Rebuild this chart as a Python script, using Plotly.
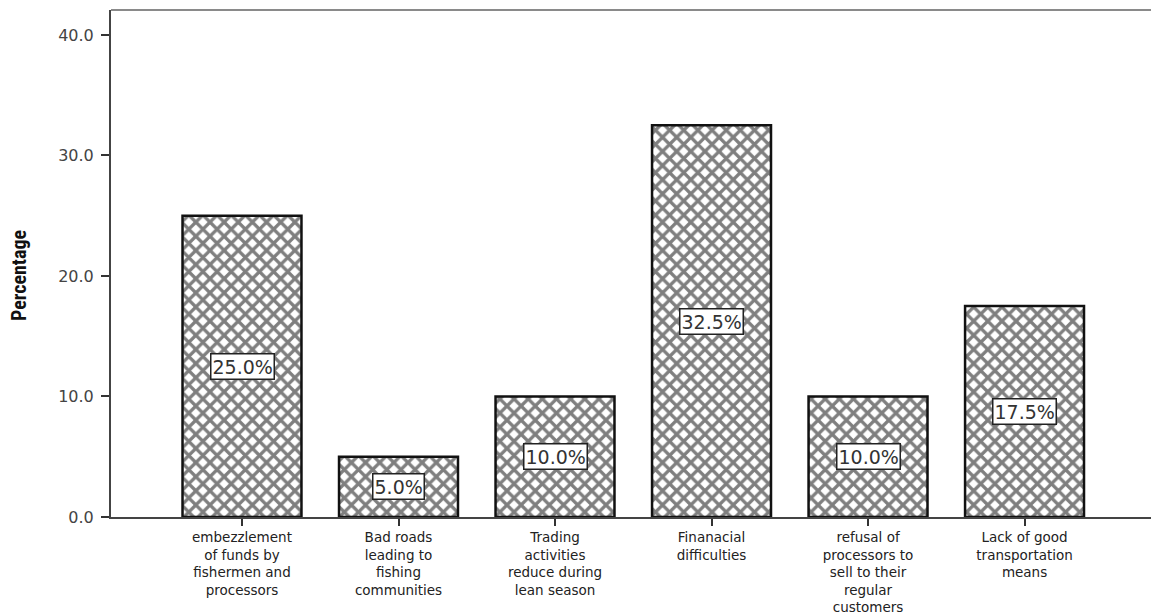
import plotly.graph_objects as go

categories = [
    "embezzlement<br>of funds by<br>fishermen and<br>processors",
    "Bad roads<br>leading to<br>fishing<br>communities",
    "Trading<br>activities<br>reduce during<br>lean season",
    "Finanacial<br>difficulties",
    "refusal of<br>processors to<br>sell to their<br>regular<br>customers",
    "Lack of good<br>transportation<br>means",
]
percentages = [25.0, 5.0, 10.0, 32.5, 10.0, 17.5]
y_ticks = [0, 10, 20, 30, 40]

W, H = 1151, 615
ML, MR, MT, MB = 111, 0, 10, 98

fig = go.Figure()
fig.add_trace(go.Bar(
    x=categories,
    y=percentages,
    marker=dict(
        color="white",
        line=dict(color="#111111", width=2.5),
        pattern=dict(shape="x", fgcolor="#000000", bgcolor="white", size=10, solidity=0.55),
    ),
    hoverinfo="skip",
))

for c, v in zip(categories, percentages):
    fig.add_annotation(
        x=c, y=v / 2, xref="x", yref="y",
        text=f"{v:.1f}%", showarrow=False,
        font=dict(family="DejaVu Sans, Arial, sans-serif", size=19, color="#333333"),
        bgcolor="white", bordercolor="#222222", borderwidth=1.5, borderpad=1,
    )

fig.add_annotation(
    text="<b>Percentage</b>", textangle=-90, showarrow=False,
    xref="paper", yref="paper", x=(19 - ML) / (W - ML - MR), y=(H - MB - 276) / (H - MB - MT),
    xanchor="center", yanchor="middle",
    font=dict(family="Liberation Sans Narrow, Arial Narrow, Roboto Condensed, Liberation Sans, sans-serif", size=20, color="#111111"),
)

# top border line
fig.add_shape(type="line", xref="paper", yref="paper", x0=0, x1=1, y0=1, y1=1,
              line=dict(color="#8a8a8a", width=2))

fig.update_layout(
    width=W, height=H,
    margin=dict(l=ML, r=MR, t=MT, b=MB),
    paper_bgcolor="white", plot_bgcolor="white",
    bargap=0.24,
    showlegend=False,
    font=dict(family="DejaVu Sans, Arial, sans-serif", color="#333333"),
)
fig.update_xaxes(
    range=[-0.837, 5.808],
    showgrid=False, zeroline=False,
    showline=True, linecolor="#444444", linewidth=2,
    ticks="outside", ticklen=7, tickwidth=1.5, tickcolor="#333333",
    tickfont=dict(family="DejaVu Sans, Arial, sans-serif", size=13.5, color="#222222"),
    tickangle=0,
)
fig.update_yaxes(
    range=[0, 42.07],
    tickvals=y_ticks, tickformat=".1f",
    showgrid=False, zeroline=False,
    showline=True, linecolor="#444444", linewidth=2,
    ticks="outside", ticklen=8, tickwidth=1.5, tickcolor="#333333",
    tickfont=dict(family="DejaVu Sans, Arial, sans-serif", size=16, color="#444444"),
    ticklabelstandoff=4,
)

fig.write_html("out.html")
